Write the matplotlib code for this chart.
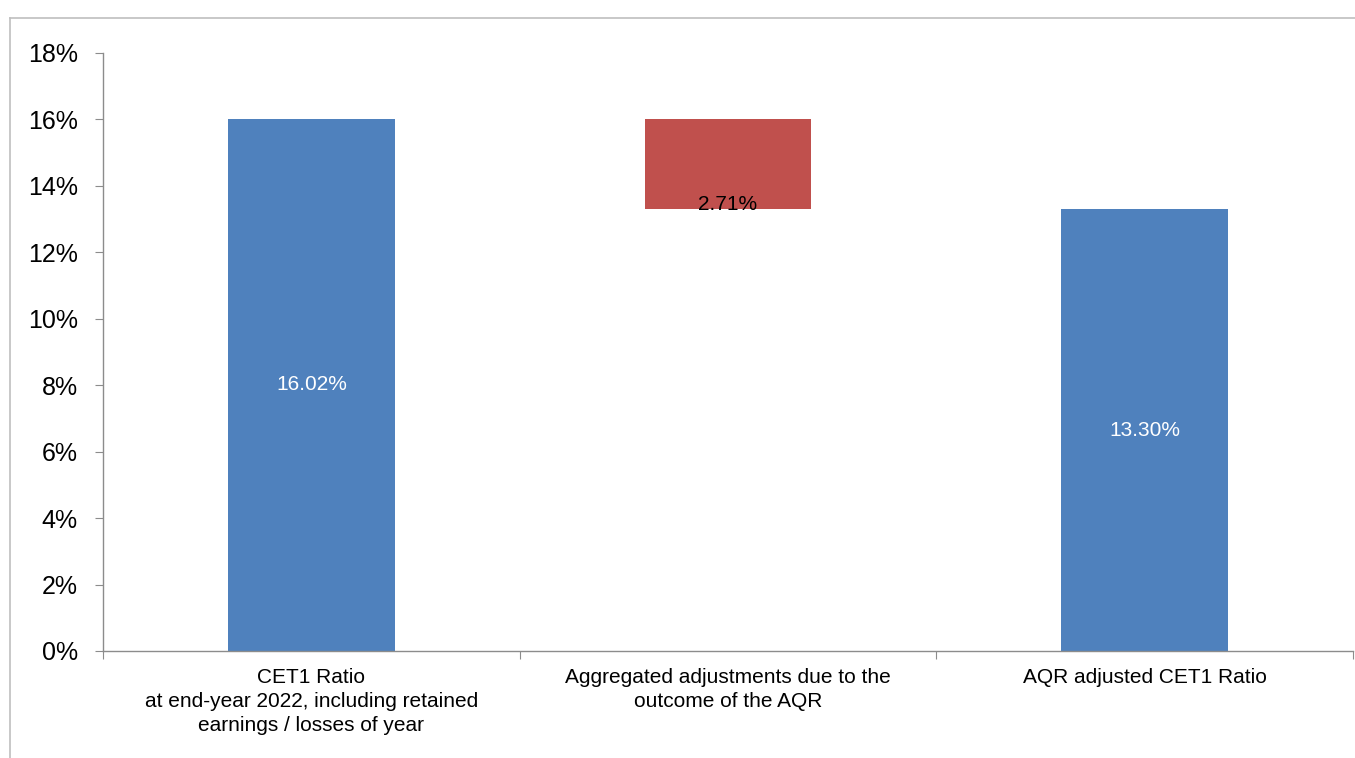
import matplotlib
matplotlib.use("Agg")
import matplotlib.pyplot as plt
from matplotlib.lines import Line2D
from matplotlib.ticker import FuncFormatter

plt.rcParams['font.family'] = ['Liberation Sans', 'DejaVu Sans']

categories = [
    "CET1 Ratio\nat end-year 2022, including retained\nearnings / losses of year",
    "Aggregated adjustments due to the\noutcome of the AQR",
    "AQR adjusted CET1 Ratio",
]
start_value = 16.02
adjustment = 2.71
end_value = 13.30

blue = "#4F81BD"
red = "#C0504D"
axis_gray = "#8C8C8C"

fig = plt.figure(figsize=(13.55, 7.58), dpi=100)
ax = fig.add_axes([103 / 1355, 1 - 651 / 758, 1250 / 1355, 598 / 758])

# waterfall: start, floating adjustment, end
heights = [start_value, adjustment, end_value]
bottoms = [0, start_value - adjustment, 0]
colors = [blue, red, blue]
x = range(len(categories))
ax.bar(x, heights, bottom=bottoms, width=0.4, color=colors, linewidth=0)

ax.text(0, start_value / 2, f"{start_value:.2f}%", ha="center", va="center",
        color="white", fontsize=15)
ax.text(1, bottoms[1] + 0.12, f"{adjustment:.2f}%", ha="center", va="center",
        color="black", fontsize=15)
ax.text(2, end_value / 2, f"{end_value:.2f}%", ha="center", va="center",
        color="white", fontsize=15)

ax.set_xlim(-0.5, 2.5)
ax.set_ylim(0, 18)
ax.set_yticks(range(0, 19, 2))
ax.yaxis.set_major_formatter(FuncFormatter(lambda v, p: f"{v:.0f}%"))
ax.tick_params(axis="y", labelsize=18, length=6, color=axis_gray, pad=12)

# category boundaries as x ticks, names placed under each bar
ax.set_xticks([-0.5, 0.5, 1.5, 2.5])
ax.set_xticklabels([])
ax.tick_params(axis="x", length=6, color=axis_gray)
for i, name in enumerate(categories):
    ax.annotate(name, xy=(i, 0), xycoords="data", xytext=(0, -12),
                textcoords="offset points", ha="center", va="top",
                fontsize=15, linespacing=1.35)

for side in ["top", "right"]:
    ax.spines[side].set_visible(False)
for side in ["left", "bottom"]:
    ax.spines[side].set_color(axis_gray)
    ax.spines[side].set_linewidth(1)

# outer frame of the original chart area
frame_color = "#BFBFBF"
fig.add_artist(Line2D([10 / 1355, 1], [1 - 18 / 758, 1 - 18 / 758],
                      transform=fig.transFigure, color=frame_color, lw=1.2))
fig.add_artist(Line2D([10 / 1355, 10 / 1355], [0, 1 - 18 / 758],
                      transform=fig.transFigure, color=frame_color, lw=1.2))

fig.savefig("out.png", dpi=100)
